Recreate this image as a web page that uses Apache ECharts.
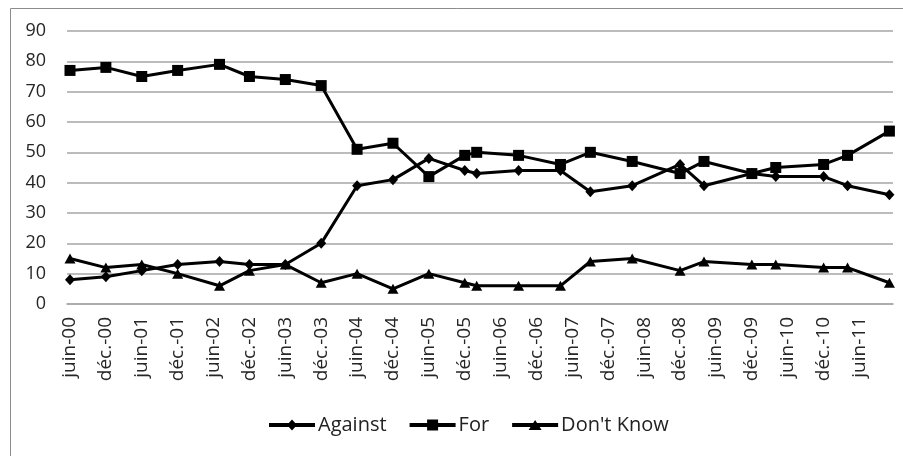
<!DOCTYPE html>
<html>
<head>
<meta charset="utf-8">
<script src="https://cdn.jsdelivr.net/npm/echarts@6/dist/echarts.min.js"></script>
<style>
html,body{margin:0;padding:0;background:#fff;}
#chart{width:903px;height:456px;}
</style>
</head>
<body>
<div id="chart"></div>
<script>
// Survey dates (year-month)
const surveyDates = ['2000-06','2000-12','2001-06','2001-12','2002-07','2002-12','2003-06','2003-12','2004-06','2004-12','2005-06','2005-12','2006-02','2006-09','2007-04','2007-09','2008-04','2008-12','2009-04','2009-12','2010-04','2010-12','2011-04','2011-11'];
const againstValues = [8, 9, 11, 13, 14, 13, 13, 20, 39, 41, 48, 44, 43, 44, 44, 37, 39, 46, 39, 43, 42, 42, 39, 36];
const forValues = [77, 78, 75, 77, 79, 75, 74, 72, 51, 53, 42, 49, 50, 49, 46, 50, 47, 43, 47, 43, 45, 46, 49, 57];
const dontKnowValues = [15, 12, 13, 10, 6, 11, 13, 7, 10, 5, 10, 7, 6, 6, 6, 14, 15, 11, 14, 13, 13, 12, 12, 7];
const xTickLabels = ['juin-00','déc.-00','juin-01','déc.-01','juin-02','déc.-02','juin-03','déc.-03','juin-04','déc.-04','juin-05','déc.-05','juin-06','déc.-06','juin-07','déc.-07','juin-08','déc.-08','juin-09','déc.-09','juin-10','déc.-10','juin-11'];
const yTicks = [0, 10, 20, 30, 40, 50, 60, 70, 80, 90];

// months since June 2000
function monthIndex(s) {
  const [y, m] = s.split('-').map(Number);
  return (y - 2000) * 12 + (m - 6);
}
const xs = surveyDates.map(monthIndex);
const tickValues = xTickLabels.map((_, i) => i * 6);
const pair = vals => vals.map((v, i) => [xs[i], v]);

// legend icons: line with marker in the middle (46 x 12 box)
const bar = 'M0,0M0,12M0,4H46V8H0Z ';
const icons = {
  'Against': 'path://' + bar + 'M23,0.5L28,6L23,11.5L18,6Z',
  'For': 'path://' + bar + 'M17.5,0.5H28.5V11.5H17.5Z',
  "Don't Know": 'path://' + bar + 'M23,1L29.5,11H16.5Z'
};

const chart = echarts.init(document.getElementById('chart'), null, {renderer: 'canvas'});
const lineStyle = {color: '#000', width: 3};
chart.setOption({
  animation: false,
  backgroundColor: '#fff',
  graphic: [{
    type: 'rect', left: 8, top: 6, silent: true,
    shape: {x: 0, y: 0, width: 1000, height: 1000},
    style: {fill: 'none', stroke: '#8c8c8c', lineWidth: 1}
  }],
  grid: {left: 67, right: 10, top: 31, bottom: 152, containLabel: false},
  legend: {
    left: 264, top: 410,
    itemWidth: 46, itemHeight: 12, itemGap: 23,
    itemStyle: {color: '#000', borderWidth: 0},
    textStyle: {fontFamily: '"Open Sans", sans-serif', fontSize: 20, color: '#222', padding: [0, 0, 0, -2]},
    data: ['Against', 'For', "Don't Know"].map(n => ({name: n, icon: icons[n]}))
  },
  xAxis: {
    type: 'value', min: -0.5, max: 137.6,
    axisLine: {show: true, lineStyle: {color: '#a6a6a6', width: 1.5}},
    axisTick: {show: false},
    splitLine: {show: false},
    axisLabel: {
      customValues: tickValues,
      rotate: 90, margin: 13,
      fontFamily: '"Open Sans", sans-serif', fontSize: 19, color: '#262626',
      formatter: v => xTickLabels[Math.round(v / 6)] || ''
    }
  },
  yAxis: {
    type: 'value', min: yTicks[0], max: yTicks[yTicks.length - 1], interval: 10,
    axisLine: {show: false}, axisTick: {show: false},
    splitLine: {lineStyle: {color: '#a6a6a6', width: 1.5}},
    axisLabel: {margin: 21, fontFamily: '"Open Sans", sans-serif', fontSize: 18, color: '#262626'}
  },
  series: [
    {name: 'Against', type: 'line', data: pair(againstValues), symbol: 'diamond', symbolSize: [10, 11],
     itemStyle: {color: '#000'}, lineStyle: lineStyle},
    {name: 'For', type: 'line', data: pair(forValues), symbol: 'rect', symbolSize: 11,
     itemStyle: {color: '#000'}, lineStyle: lineStyle},
    {name: "Don't Know", type: 'line', data: pair(dontKnowValues), symbol: 'triangle', symbolSize: [11, 10],
     itemStyle: {color: '#000'}, lineStyle: lineStyle}
  ]
});
</script>
</body>
</html>
